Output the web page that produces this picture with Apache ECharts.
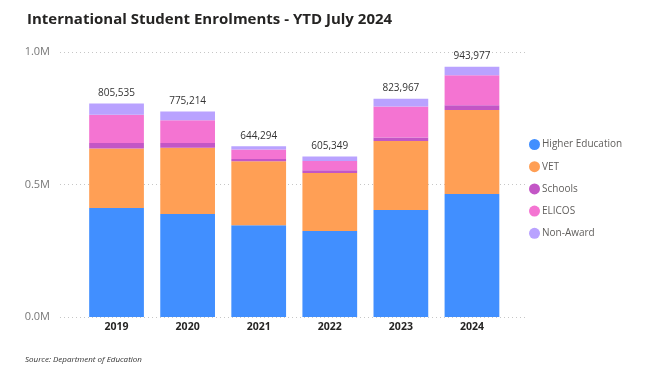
<!DOCTYPE html>
<html><head><meta charset="utf-8">
<script src="https://cdn.jsdelivr.net/npm/echarts@6/dist/echarts.min.js"></script>
<style>html,body{margin:0;padding:0;background:#fff}#c{width:650px;height:375px}</style>
</head><body><div id="c"></div>
<script>
const years = ['2019','2020','2021','2022','2023','2024'];
const higherEducation = [411000, 389000, 346000, 324500, 404000, 464000];
const vet = [224500, 250000, 241500, 219000, 260000, 317000];
const schools = [21000, 17500, 8500, 10000, 13000, 18000];
const elicos = [107000, 85500, 36000, 35000, 117000, 113000];
const nonAward = [42035, 33214, 12294, 16849, 29967, 31977];
const totals = [805535, 775214, 644294, 605349, 823967, 943977];
const yTicks = [0, 500000, 1000000];

const names = ['Higher Education','VET','Schools','ELICOS','Non-Award'];
const colors = ['#418FFF','#FF9F55','#C356C6','#F474D2','#B9A2FF'];
const seriesData = [higherEducation, vet, schools, elicos, nonAward];
const font = '"Open Sans", "Noto Sans", sans-serif';

const chart = echarts.init(document.getElementById('c'), null, {renderer:'canvas'});
const bars = names.map((n,i)=>({
  name:n, type:'bar', stack:'total', xAxisIndex:1, yAxisIndex:1,
  data:seriesData[i], barCategoryGap:'23%',
  itemStyle:{color:colors[i]}, emphasis:{disabled:true}
}));
chart.setOption({
  animation:false,
  title:{text:'International Student Enrolments - YTD July 2024', left:22, top:7,
    textStyle:{fontFamily:font, fontWeight:'bold', fontSize:15, color:'#252423'}},
  legend:{data:names, orient:'vertical', left:524, top:134, itemGap:11.2,
    icon:'circle', itemWidth:11, itemHeight:11,
    textStyle:{fontFamily:font, fontSize:10, color:'#605E5C', padding:[0,0,0,-3]}},
  graphic:[{type:'text', left:25, top:356, style:{text:'Source: Department of Education',
    font:'italic 8px "Open Sans", sans-serif', fill:'#333'}}],
  grid:[{left:60, right:123, top:52, bottom:58},{left:81, right:142.5, top:52, bottom:58}],
  xAxis:[{type:'value', gridIndex:0, min:0, max:1, show:false},
    {type:'category', gridIndex:1, data:years, axisLine:{show:false}, axisTick:{show:false},
     axisLabel:{fontFamily:font, fontWeight:'bold', fontSize:10.5, color:'#252423', margin:5}}],
  yAxis:[{type:'value', gridIndex:0, min:0, max:1000000, interval:500000,
     axisLabel:{fontFamily:font, fontSize:11, color:'#777', margin:10,
       formatter:v=>(v/1000000).toFixed(1)+'M'},
     splitLine:{lineStyle:{type:[1,3], color:'#c6c6c6', width:1}},
     axisLine:{show:false}, axisTick:{show:false}},
    {type:'value', gridIndex:1, min:0, max:1000000, interval:500000, show:false, splitLine:{show:false}}],
  series:[...bars,
    {name:'Total', type:'line', xAxisIndex:1, yAxisIndex:1, data:totals,
     symbol:'circle', symbolSize:1, showSymbol:true, itemStyle:{color:'rgba(0,0,0,0)'},
     lineStyle:{width:0, opacity:0}, silent:true,
     label:{show:true, position:'top', distance:5, fontFamily:font, fontSize:10, color:'#333',
       formatter:p=>p.value.toLocaleString('en-US')}}]
});
</script></body></html>
